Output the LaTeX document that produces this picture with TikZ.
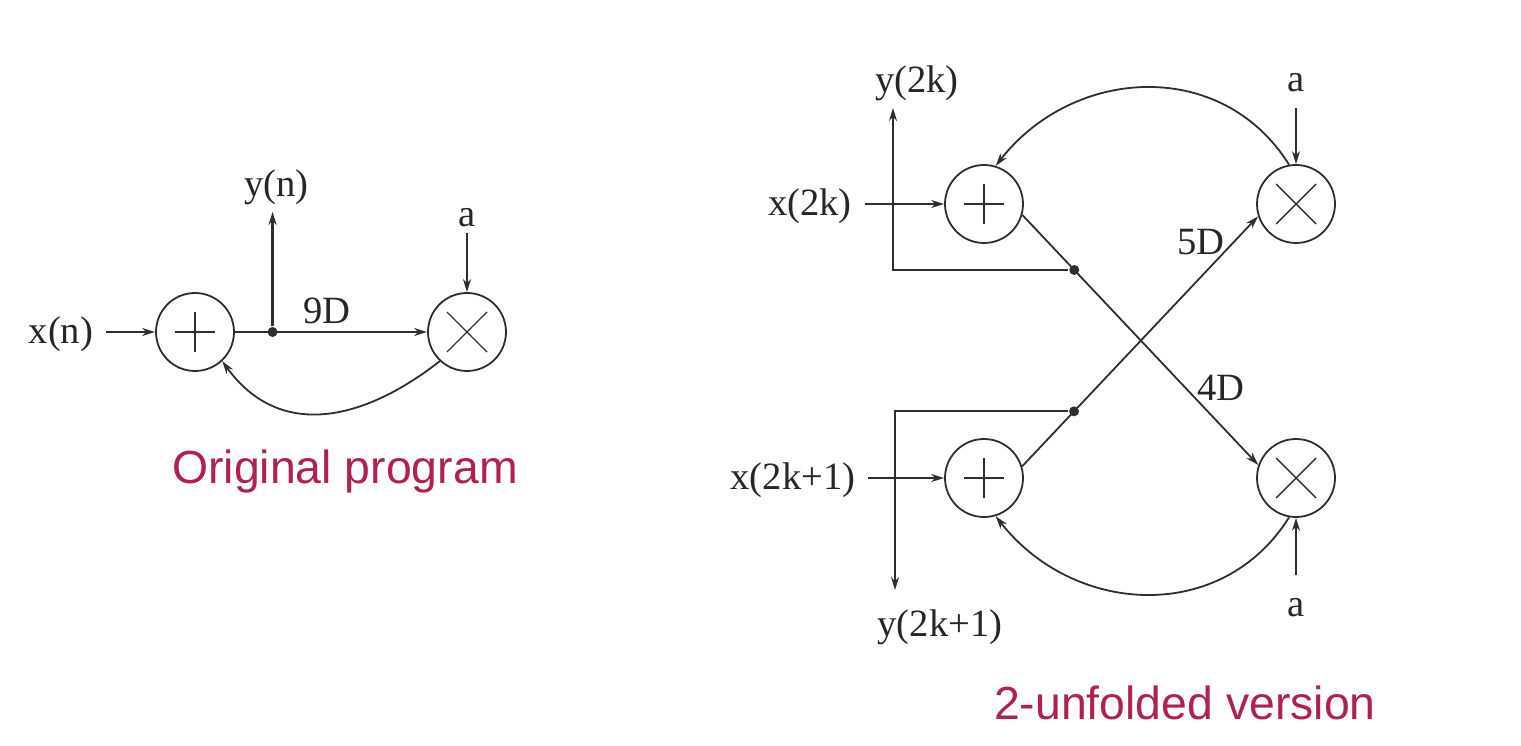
\documentclass[tikz,border=0pt]{standalone}
\usepackage{fontspec}
\setmainfont{Liberation Serif}
\setsansfont{Liberation Sans}
\usepackage{xcolor}
\usetikzlibrary{positioning, arrows.meta}
\definecolor{captionred}{HTML}{AE2151}
\definecolor{wire}{HTML}{2E2E2E}
\tikzset{
  opnode/.style={circle, draw=wire, line width=0.9pt, minimum size=39pt, inner sep=0pt},
  addnode/.style={opnode, path picture={
    \draw[wire, line width=0.7pt] ([xshift=-10pt]path picture bounding box.center) -- ([xshift=10pt]path picture bounding box.center);
    \draw[wire, line width=0.7pt] ([yshift=-10pt]path picture bounding box.center) -- ([yshift=10pt]path picture bounding box.center);}},
  mulnode/.style={opnode, path picture={
    \draw[wire, line width=0.7pt] ([shift={(-10pt,-10pt)}]path picture bounding box.center) -- ([shift={(10pt,10pt)}]path picture bounding box.center);
    \draw[wire, line width=0.7pt] ([shift={(-10pt,10pt)}]path picture bounding box.center) -- ([shift={(10pt,-10pt)}]path picture bounding box.center);}},
  lbl/.style={font=\fontsize{19.3}{23}\selectfont, text=black!85, text height=15.5pt, text depth=3.5pt, inner xsep=6pt, inner ysep=0pt},
  dlbl/.style={font=\fontsize{19.3}{23}\selectfont, text=black!85, inner sep=0pt},
  caption/.style={font=\sffamily\fontsize{23.2}{28}\selectfont, text=captionred, inner sep=0pt},
  fork/.style={circle, fill=wire, minimum size=5pt, inner sep=0pt},
}
\begin{document}
\begin{tikzpicture}[x=0.5pt, y=0.5pt, on grid, >={Stealth[length=6.5pt, width=4pt]}, line width=0.9pt, draw=wire]
   \useasboundingbox (0,0) rectangle (1521,745);

   % original program
   \node[addnode] (addA) at (195,413) {};
   \node[mulnode] (mulA) [right=136pt of addA] {};
   \node[lbl] (xA) [left=67pt of addA] {x(n)};
   \node[lbl] (aA) [above=58.5pt of mulA] {a};
   \node[caption] (capA) at (345,273) {Original program};

   \draw[->] (addA) -- node[fork, pos=.196] (forkA) {} node[dlbl, pos=.48, above=3.5pt] (delayA) {9D} (mulA);
   \node[lbl] (yA) [above=73.5pt of forkA, xshift=2pt] {y(n)};
   \draw[->, line width=1.3pt, shorten >=3.5pt] (forkA) -- (forkA |- yA.south);

   \path[->]
    (xA) edge (addA)
    (aA) edge [shorten <=-1pt] (mulA)
    (mulA.227) edge [out=218, in=-54, looseness=1.15] (addA.-47)
    ;

   % 2-unfolded version
   \node[addnode] (addB) at (984,541) {};
   \node[mulnode] (mulB) [right=156pt of addB] {};
   \node[addnode] (addC) [below=137pt of addB] {};
   \node[mulnode] (mulC) [below=137pt of mulB] {};
   \node[lbl] (xB) [left=87pt of addB] {x(2k)};
   \node[lbl] (xC) [left=95.5pt of addC] {x(2k+1)};
   \node[lbl] (aB) [above=62pt of mulB] {a};
   \node[lbl] (aC) [below=63pt of mulC] {a};
   \node[lbl] (yB) at (917,664) {y(2k)};
   \node[lbl] (yC) at (940,121) {y(2k+1)};
   \node[dlbl] (delayB) at (1201,503) {5D};
   \node[dlbl] (delayC) at (1221,357) {4D};
   \node[caption] (capB) at (1185,42) {2-unfolded version};
   \coordinate (yBend) at (893,637);
   \coordinate (yCend) at (895,155);

   \draw[->] (addB.-16) -- node[fork, pos=.22] (forkB) {} (mulC.161);
   \draw[->] (addC.17) -- node[fork, pos=.22] (forkC) {} (mulB.198);
   \draw[->] (forkB) -| (yBend);
   \draw[->] (forkC) -| (yCend);

   \path[->]
    (xB) edge (addB)
    (xC) edge (addC)
    (aB) edge [shorten <=4pt] (mulB)
    (aC) edge [shorten <=4.5pt] (mulC)
    (mulB.100) edge [out=122, in=52, looseness=1.1] (addB.73)
    (mulC.-100) edge [out=-122, in=-52, looseness=1.1] (addC.-73)
    ;
\end{tikzpicture}
\end{document}
